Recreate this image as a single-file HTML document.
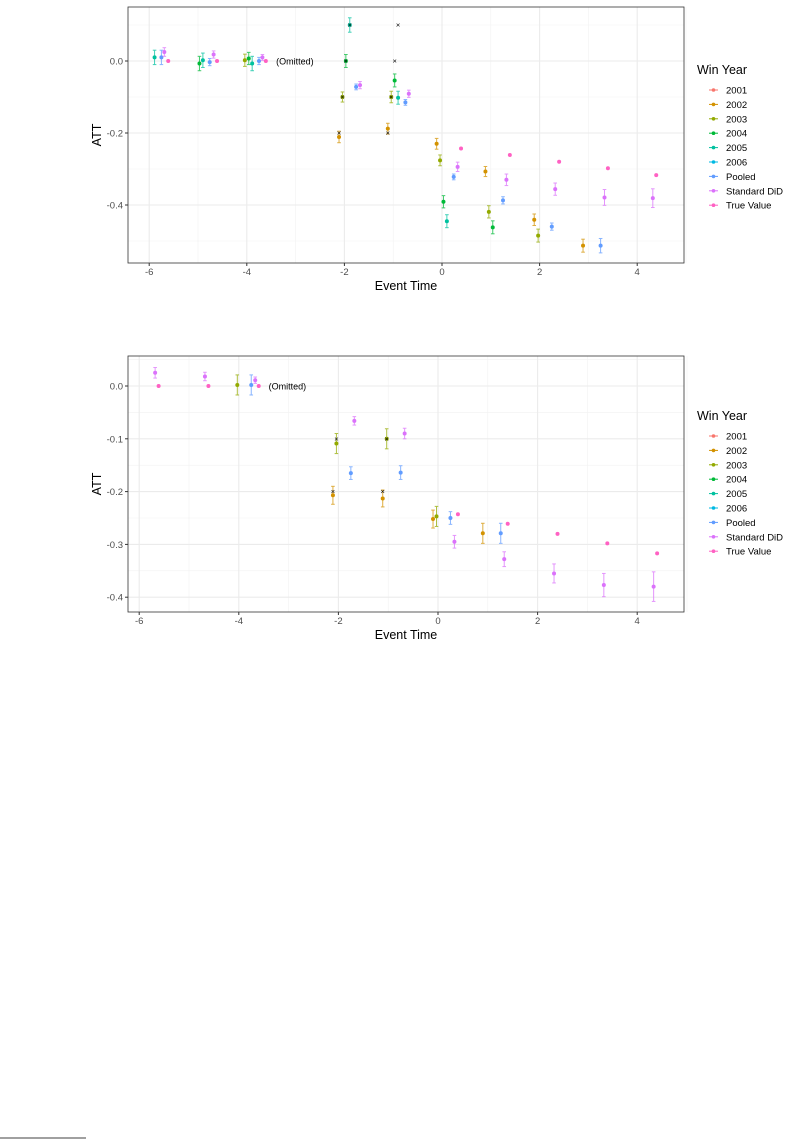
<!DOCTYPE html>
<html><head><meta charset="utf-8"><style>
body{margin:0;background:#fff;width:803px;height:1146px;overflow:hidden}
svg{position:absolute;left:0;top:0}
text{font-family:"Liberation Sans",sans-serif}
</style></head><body>
<svg id="s" width="803" height="1146" xmlns="http://www.w3.org/2000/svg"></svg>
<script>
const C={"2001":"#F8766D","2002":"#D39200","2003":"#93AA00","2004":"#00BA38","2005":"#00C19F","2006":"#00B9E3",P:"#619CFF",D:"#DB72FB",T:"#FF61C3"};
let out="";
function panel(o){
 const L=128,R=684,top=o.top,bot=o.bot;
 const X=t=>o.x0+o.xs*t, Y=v=>o.y0-o.ys*v;
 out+=`<rect x="${L}" y="${top}" width="${R-L}" height="${bot-top}" fill="#fff"/>`;
 for(const v of o.ymin) out+=`<line x1="${L}" x2="${R}" y1="${Y(v)}" y2="${Y(v)}" stroke="#f2f2f2" stroke-width="0.6"/>`;
 for(let t=-5;t<=5;t+=2) out+=`<line y1="${top}" y2="${bot}" x1="${X(t)}" x2="${X(t)}" stroke="#f2f2f2" stroke-width="0.6"/>`;
 for(const v of o.ymaj) out+=`<line x1="${L}" x2="${R}" y1="${Y(v)}" y2="${Y(v)}" stroke="#ebebeb" stroke-width="1.1"/>`;
 for(let t=-6;t<=4;t+=2) out+=`<line y1="${top}" y2="${bot}" x1="${X(t)}" x2="${X(t)}" stroke="#ebebeb" stroke-width="1.1"/>`;
 out+=`<rect x="${L}" y="${top}" width="${R-L}" height="${bot-top}" fill="none" stroke="#333" stroke-width="0.8"/>`;
 for(const v of o.ymaj){out+=`<line x1="${L-3}" x2="${L}" y1="${Y(v)}" y2="${Y(v)}" stroke="#333"/><text x="${L-5}" y="${Y(v)+3.5}" font-size="9.5" fill="#4d4d4d" text-anchor="end">${v.toFixed(1)}</text>`;}
 for(let t=-6;t<=4;t+=2){out+=`<line y1="${bot}" y2="${bot+3}" x1="${X(t)}" x2="${X(t)}" stroke="#333"/><text x="${X(t)}" y="${bot+12}" font-size="9.5" fill="#4d4d4d" text-anchor="middle">${t}</text>`;}
 out+=`<text x="${(L+R)/2}" y="${bot+27}" font-size="12.5" text-anchor="middle">Event Time</text>`;
 out+=`<text transform="translate(101,${(top+bot)/2}) rotate(-90)" font-size="12.5" text-anchor="middle">ATT</text>`;
 for(const [t,v,c,e] of o.pts){const x=X(t),y=Y(v),col=C[c];
  if(e){out+=`<g stroke="${col}" stroke-width="1" opacity="0.75"><line x1="${x}" x2="${x}" y1="${Y(v+e)}" y2="${Y(v-e)}"/><line x1="${x-1.8}" x2="${x+1.8}" y1="${Y(v+e)}" y2="${Y(v+e)}"/><line x1="${x-1.8}" x2="${x+1.8}" y1="${Y(v-e)}" y2="${Y(v-e)}"/></g>`;}
  out+=`<circle cx="${x}" cy="${y}" r="2" fill="${col}"/>`;}
 for(const [t,v] of o.xs_) out+=`<text x="${X(t)}" y="${Y(v)+2.5}" font-size="7.5" text-anchor="middle">×</text>`;
 out+=`<text x="${X(o.om)}" y="${o.y0+3.5}" font-size="9">(Omitted)</text>`;
 const ly=o.leg;
 out+=`<text x="697" y="${ly}" font-size="12.5">Win Year</text>`;
 const names=[["2001","2001"],["2002","2002"],["2003","2003"],["2004","2004"],["2005","2005"],["2006","2006"],["P","Pooled"],["D","Standard DiD"],["T","True Value"]];
 names.forEach(([k,n],i)=>{const y=ly+16+i*14.4;out+=`<line x1="709" x2="718" y1="${y}" y2="${y}" stroke="${C[k]}" stroke-width="1"/><circle cx="713.5" cy="${y}" r="1.8" fill="${C[k]}"/><text x="726" y="${y+3.5}" font-size="9.5">${n}</text>`;});
}
panel({top:7,bot:263,x0:442,xs:48.8,y0:61,ys:360,ymaj:[0,-0.2,-0.4],ymin:[0.1,-0.1,-0.3,-0.5],om:-3.4,leg:74,
pts:[[-5.89,.01,"2005",.02],[-5.75,.01,"P",.02],[-5.69,.025,"D",.012],[-5.61,0,"T",0],
[-4.97,-.007,"2004",.02],[-4.9,.002,"2005",.02],[-4.76,-.003,"P",.01],[-4.68,.018,"D",.01],[-4.61,0,"T",0],
[-4.04,.002,"2003",.017],[-3.96,.007,"2004",.017],[-3.89,-.007,"2005",.02],[-3.75,0,"P",.01],[-3.68,.01,"D",.008],[-3.61,0,"T",0],
[-2.11,-.211,"2002",.016],[-2.04,-.1,"2003",.014],[-1.97,0,"2004",.018],[-1.89,.1,"2005",.02],[-1.76,-.072,"P",.008],[-1.68,-.067,"D",.01],
[-1.11,-.188,"2002",.015],[-1.04,-.1,"2003",.016],[-.97,-.054,"2004",.018],[-.9,-.102,"2005",.018],[-.75,-.115,"P",.008],[-.68,-.091,"D",.01],
[-.11,-.23,"2002",.015],[-.04,-.276,"2003",.015],[.03,-.391,"2004",.017],[.1,-.445,"2005",.018],[.24,-.322,"P",.008],[.32,-.294,"D",.013],[.39,-.243,"T",0],
[.89,-.307,"2002",.014],[.96,-.419,"2003",.017],[1.04,-.462,"2004",.018],[1.25,-.387,"P",.01],[1.32,-.33,"D",.016],[1.39,-.261,"T",0],
[1.89,-.441,"2002",.016],[1.97,-.485,"2003",.018],[2.25,-.46,"P",.01],[2.32,-.356,"D",.017],[2.4,-.28,"T",0],
[2.89,-.513,"2002",.018],[3.25,-.513,"P",.02],[3.33,-.379,"D",.022],[3.4,-.298,"T",0],[4.32,-.381,"D",.026],[4.39,-.317,"T",0]],
xs_:[[-2.11,-.2],[-2.04,-.1],[-1.97,0],[-1.89,.1],[-1.11,-.2],[-1.04,-.1],[-.97,0],[-.9,.1]]});
panel({top:356,bot:612,x0:438,xs:49.8,y0:386,ys:528,ymaj:[0,-0.1,-0.2,-0.3,-0.4],ymin:[0.05,-0.05,-0.15,-0.25,-0.35],om:-3.4,leg:420,
pts:[[-5.68,.025,"D",.01],[-5.61,0,"T",0],[-4.68,.018,"D",.008],[-4.61,0,"T",0],
[-4.03,.002,"2003",.019],[-3.75,.002,"P",.019],[-3.67,.011,"D",.006],[-3.6,0,"T",0],
[-2.11,-.207,"2002",.017],[-2.04,-.109,"2003",.019],[-1.75,-.165,"P",.012],[-1.68,-.066,"D",.008],
[-1.11,-.213,"2002",.016],[-1.03,-.1,"2003",.019],[-.75,-.164,"P",.013],[-.67,-.09,"D",.01],
[-.1,-.252,"2002",.017],[-.03,-.247,"2003",.019],[.25,-.25,"P",.012],[.33,-.295,"D",.012],[.4,-.243,"T",0],
[.9,-.279,"2002",.019],[1.26,-.279,"P",.019],[1.33,-.328,"D",.014],[1.4,-.261,"T",0],
[2.33,-.355,"D",.018],[2.4,-.28,"T",0],[3.33,-.377,"D",.022],[3.4,-.298,"T",0],[4.33,-.38,"D",.028],[4.4,-.317,"T",0]],
xs_:[[-2.11,-.2],[-2.04,-.1],[-1.11,-.2],[-1.03,-.1]]});
out+=`<line x1="0" x2="86" y1="1138" y2="1138" stroke="#000" stroke-width="0.8"/>`;
document.getElementById("s").innerHTML=out;
</script>
</body></html>
